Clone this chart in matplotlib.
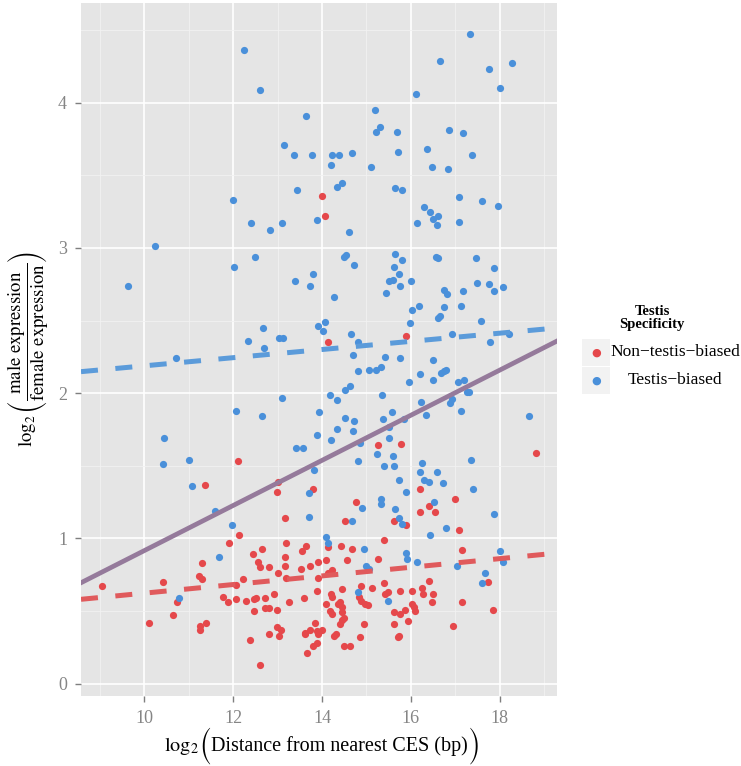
import matplotlib
matplotlib.use('Agg')
import matplotlib.pyplot as plt
import numpy as np
from matplotlib.patches import Rectangle
from matplotlib.offsetbox import TextArea, HPacker, AnchoredOffsetbox

# points: (log2 distance, log2 male/female)
blue_pts = [
    (12.24, 4.36), (12.60, 4.09), (17.33, 4.47), (16.66, 4.29), (17.77, 4.23), (18.27, 4.27),
    (18.00, 4.10), (16.11, 4.06), (13.65, 3.91), (15.20, 3.95), (15.22, 3.80), (15.31, 3.83),
    (15.68, 3.80), (16.86, 3.81), (17.18, 3.79), (13.14, 3.71), (13.36, 3.64), (13.78, 3.64),
    (14.22, 3.64), (14.38, 3.64), (14.67, 3.65), (14.20, 3.57), (15.71, 3.66), (16.37, 3.68),
    (17.38, 3.64), (15.11, 3.56), (16.47, 3.56), (16.83, 3.54), (13.44, 3.40), (14.34, 3.42),
    (14.46, 3.45), (15.65, 3.41), (15.79, 3.40), (12.00, 3.33), (17.09, 3.35), (17.61, 3.32),
    (17.97, 3.29), (16.29, 3.28), (16.44, 3.25), (16.61, 3.22), (16.49, 3.20), (16.59, 3.16),
    (16.14, 3.17), (17.08, 3.18), (12.40, 3.17), (13.09, 3.17), (13.89, 3.19), (12.84, 3.12),
    (14.61, 3.11), (10.23, 3.01), (9.63, 2.74), (12.02, 2.87), (12.50, 2.94), (14.49, 2.94),
    (14.53, 2.95), (14.72, 2.88), (15.65, 2.96), (15.80, 2.92), (15.62, 2.87), (15.74, 2.82),
    (15.51, 2.77), (15.59, 2.78), (15.75, 2.74), (16.00, 2.77), (15.44, 2.69), (16.56, 2.94),
    (16.60, 2.93), (17.47, 2.93), (17.88, 2.86), (17.50, 2.76), (17.77, 2.75), (17.87, 2.70),
    (18.07, 2.73), (16.75, 2.71), (16.82, 2.68), (17.18, 2.70), (13.40, 2.77), (13.79, 2.82),
    (13.72, 2.74), (14.28, 2.66), (16.02, 2.57), (16.19, 2.60), (16.75, 2.59), (17.12, 2.60),
    (16.61, 2.52), (16.66, 2.53), (17.58, 2.50), (15.99, 2.48), (12.68, 2.45), (13.90, 2.46),
    (14.07, 2.49), (14.02, 2.43), (14.66, 2.41), (13.04, 2.38), (13.12, 2.38), (12.33, 2.36),
    (14.81, 2.35), (16.92, 2.41), (17.79, 2.35), (18.22, 2.41), (12.69, 2.31),
    (10.71, 2.24), (14.70, 2.26), (15.75, 2.24), (15.41, 2.25), (16.50, 2.23), (14.80, 2.15),
    (15.06, 2.16), (15.21, 2.16), (15.33, 2.18), (16.20, 2.13), (16.50, 2.09), (16.68, 2.14),
    (16.74, 2.15), (16.80, 2.16), (15.96, 2.08), (17.07, 2.08), (17.19, 2.09), (17.27, 2.01),
    (17.31, 2.01), (14.64, 2.05), (14.51, 2.02), (14.17, 1.99), (14.33, 1.95), (15.36, 1.99),
    (16.22, 1.94), (16.35, 1.85), (16.89, 1.93), (16.92, 1.96), (17.12, 1.88), (13.11, 1.97),
    (12.06, 1.88), (12.64, 1.84), (13.94, 1.87), (14.52, 1.83), (14.72, 1.81), (15.37, 1.82),
    (15.58, 1.87), (15.84, 1.82), (15.50, 1.77), (14.33, 1.75), (14.69, 1.74), (13.89, 1.71),
    (14.20, 1.68), (15.51, 1.69), (14.85, 1.66), (18.65, 1.84), (10.44, 1.69), (10.41, 1.51),
    (11.00, 1.54), (11.07, 1.36), (13.42, 1.62), (13.58, 1.62), (14.81, 1.53), (15.24, 1.58),
    (15.60, 1.57), (15.39, 1.50), (15.63, 1.50), (17.35, 1.54), (16.25, 1.52), (16.20, 1.46),
    (16.58, 1.46), (16.29, 1.40), (16.40, 1.39), (15.74, 1.40), (16.73, 1.38), (15.90, 1.32),
    (17.41, 1.34), (13.81, 1.47), (13.71, 1.31), (13.71, 1.15), (15.33, 1.27), (15.33, 1.24),
    (14.91, 1.21), (16.53, 1.25), (14.68, 1.12), (15.65, 1.20), (15.74, 1.14), (15.81, 1.10),
    (16.80, 1.07), (16.44, 1.02), (17.88, 1.17), (11.59, 1.19), (11.97, 1.09), (14.10, 1.01),
    (14.14, 0.97), (11.69, 0.87), (14.95, 0.93), (15.90, 0.90), (15.91, 0.86), (16.14, 0.84),
    (18.01, 0.91), (18.08, 0.84), (17.04, 0.81), (14.98, 0.81), (15.06, 0.79), (17.67, 0.76),
    (17.60, 0.69), (10.79, 0.59), (14.80, 0.63), (15.48, 0.57),
]

red_pts = [
    (14.01, 3.36), (14.07, 3.22), (14.14, 2.35), (15.90, 2.39),
    (9.05, 0.67), (10.11, 0.42), (10.43, 0.70), (10.65, 0.47), (10.74, 0.56), (11.24, 0.74),
    (11.29, 0.72), (11.31, 0.83), (11.36, 1.37), (11.26, 0.40), (11.26, 0.37), (11.40, 0.42),
    (12.12, 1.53), (12.13, 1.02), (11.91, 0.97), (12.22, 0.72), (12.06, 0.68), (11.78, 0.60),
    (11.88, 0.56), (12.06, 0.58), (12.29, 0.57), (12.47, 0.58), (12.51, 0.59), (12.72, 0.59),
    (12.48, 0.50), (12.71, 0.52), (12.81, 0.52), (12.99, 0.51), (12.38, 0.30), (12.61, 0.13),
    (12.81, 0.34), (13.03, 0.33), (12.99, 0.39), (13.07, 0.37), (12.45, 0.89), (12.65, 0.93),
    (12.56, 0.84), (12.60, 0.80), (12.81, 0.80), (13.00, 0.76), (13.17, 0.81), (13.16, 0.87),
    (13.20, 0.97), (13.17, 1.14), (12.99, 1.32), (13.02, 1.39), (12.93, 0.62), (13.20, 0.73),
    (13.26, 0.56), (13.52, 0.79), (13.55, 0.91), (13.65, 0.95), (13.74, 0.81), (13.90, 0.84),
    (13.92, 0.73), (13.89, 0.64), (13.60, 0.59), (13.61, 0.35), (13.62, 0.34), (13.73, 0.37),
    (13.85, 0.42), (13.89, 0.36), (13.99, 0.37), (13.92, 0.34), (13.67, 0.21), (13.80, 0.26),
    (13.89, 0.28), (13.80, 1.34), (14.09, 0.85), (14.14, 0.94), (14.14, 0.76), (14.23, 0.78),
    (14.10, 0.55), (14.20, 0.62), (14.23, 0.60), (14.19, 0.50), (14.22, 0.48), (14.28, 0.33),
    (14.31, 0.34), (14.37, 0.55), (14.40, 0.56), (14.44, 0.53), (14.46, 0.65), (14.44, 0.49),
    (14.49, 0.45), (14.41, 0.41), (14.44, 0.44), (14.50, 0.26), (14.63, 0.26), (14.42, 0.95),
    (14.56, 0.85), (14.68, 0.93), (14.51, 1.12), (14.76, 1.25), (14.84, 0.60), (14.87, 0.67),
    (14.87, 0.57), (14.96, 0.55), (15.04, 0.54), (15.13, 0.66), (14.95, 0.41), (14.86, 0.32),
    (15.27, 0.86), (15.40, 0.99), (15.25, 1.64), (15.77, 1.65), (15.40, 0.69), (15.41, 0.62),
    (15.48, 0.63), (15.62, 1.12), (15.89, 1.09), (15.76, 0.64), (15.63, 0.49), (15.75, 0.48),
    (15.86, 0.51), (15.63, 0.41), (15.72, 0.32), (15.74, 0.33), (15.93, 0.43), (16.03, 0.64),
    (16.02, 0.55), (16.08, 0.53), (16.10, 0.50), (16.20, 1.34), (16.20, 1.18), (16.41, 1.22),
    (16.55, 1.18), (16.26, 0.66), (16.28, 0.62), (16.40, 0.71), (16.50, 0.62), (16.48, 0.56),
    (17.00, 1.27), (17.09, 1.06), (17.16, 0.92), (17.16, 0.56), (16.95, 0.40), (17.73, 0.70),
    (17.84, 0.51), (18.81, 1.59),
]

# fitted lines (intercept, slope) as drawn
fit_blue = (1.907, 0.0281)
fit_red = (0.326, 0.0297)
fit_all = (-0.637, 0.1553)

red_col = '#E5484B'
blue_col = '#4A90DA'

plt.rcParams['mathtext.fontset'] = 'stix'
plt.rcParams['font.family'] = ['Liberation Serif', 'DejaVu Serif']

W, H = 741, 766
fig = plt.figure(figsize=(W / 100, H / 100), dpi=100)
ax = fig.add_axes([81 / W, 1 - 696 / H, (557 - 81) / W, (696 - 3) / H])
ax.set_facecolor('#E5E5E5')
for s in ax.spines.values():
    s.set_visible(False)

ax.set_xlim(8.575, 19.29)
ax.set_ylim(-0.085, 4.686)
ax.set_xticks([10, 12, 14, 16, 18])
ax.set_xticks([9, 11, 13, 15, 17, 19], minor=True)
ax.set_yticks([0, 1, 2, 3, 4])
ax.set_yticks([0.5, 1.5, 2.5, 3.5, 4.5], minor=True)
ax.grid(which='major', color='white', lw=1.2)
ax.grid(which='minor', color='#F2F2F2', lw=0.6)
ax.set_axisbelow(True)
ax.tick_params(which='major', color='#7F7F7F', length=4, width=1,
               labelcolor='#858585', labelsize=13, pad=6)
ax.tick_params(which='minor', length=0)

bx, by = zip(*blue_pts)
rx, ry = zip(*red_pts)
ax.scatter(rx, ry, s=27, color=red_col, linewidths=0, zorder=3)
ax.scatter(bx, by, s=27, color=blue_col, linewidths=0, zorder=3)

xs = np.array(ax.get_xlim())
ax.plot(xs, fit_blue[0] + fit_blue[1] * xs, color='#5B9BDA', lw=3.6,
        dashes=(3.4, 3.5), zorder=4)
ax.plot(xs, fit_red[0] + fit_red[1] * xs, color='#E05A5C', lw=3.6,
        dashes=(3.4, 3.5), zorder=4)
ax.plot(xs, fit_all[0] + fit_all[1] * xs, color='#957A9B', lw=3.4, zorder=4)

ylab = r'$\log_2\left(\dfrac{\mathrm{male\ expression}}{\mathrm{female\ expression}}\right)$'
ax.set_ylabel(ylab, fontsize=13.5, labelpad=5)


def fx(p):
    return p / W


def fy(p):
    return 1 - p / H


# x label: log2 + tall thin parentheses (STIX size-variant glyphs)
txt = dict(fontsize=14.5, color='black')
par = dict(fontsize=14.5, color='black', family=['STIXSizeTwoSym', 'STIXGeneral'])
pieces = [
    TextArea(r'$\log_2$', textprops=txt),
    TextArea('(', textprops=par),
    TextArea('Distance from nearest CES (bp)', textprops=txt),
    TextArea(')', textprops=par),
]
xlab = HPacker(children=pieces, align='center', pad=0, sep=0)
fig.add_artist(AnchoredOffsetbox(loc='center', child=xlab, frameon=False, pad=0,
                                 borderpad=0, bbox_to_anchor=(fx(322), fy(746)),
                                 bbox_transform=fig.transFigure))

# legend drawn by hand in figure pixels
fig.text(fx(652), fy(318), 'Testis\nSpecificity', ha='center', va='center',
         fontsize=10.5, fontweight='bold', linespacing=1.0)
labels = ['Non\u2212testis\u2212biased', 'Testis\u2212biased']
cols = [red_col, blue_col]
for i, (lab, c) in enumerate(zip(labels, cols)):
    top = 339 + i * 28
    fig.patches.append(Rectangle((fx(582), fy(top + 27)), 28 / W, 27 / H,
                                 transform=fig.transFigure, facecolor='#F2F2F2',
                                 edgecolor='none'))
    fig.text(fx(596), fy(top + 13.5), '\u25CF', color=c, ha='center', va='center',
             fontsize=8, family=['DejaVu Sans'])
    fig.text(fx(675), fy(top + 13.5), lab, ha='center', va='center', fontsize=12.5)

fig.savefig('out.png', dpi=100)
